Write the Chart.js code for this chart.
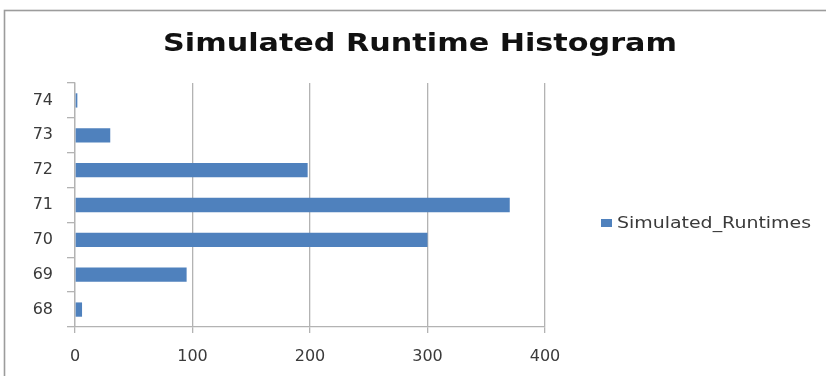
<!DOCTYPE html>
<html>
<head>
<meta charset="utf-8">
<script src="https://cdn.jsdelivr.net/npm/chart.js@4/dist/chart.umd.min.js"></script>
<style>
  html, body { margin: 0; padding: 0; background: #ffffff; }
  #wrap { position: relative; width: 826px; height: 376px; }
</style>
</head>
<body>
<div id="wrap"><canvas id="chart" width="826" height="376"></canvas></div>
<script>
// Runtime bins (seconds) and how many simulated runs landed in each
const runtimeBins = ['68', '69', '70', '71', '72', '73', '74'];
const runCounts = [6, 95, 300, 370, 198, 30, 2];
const countTicks = [0, 100, 200, 300, 400];
const seriesName = 'Simulated_Runtimes';
const chartTitle = 'Simulated Runtime Histogram';

const BAR_BLUE = '#4f81bd';
const TEXT_GREY = '#3a3a3a';
const RULE_GREY = '#b3b3b3';

// Draw text horizontally widened so it spans a given width
function drawWideText(ctx, text, font, x, y, width, align) {
  ctx.save();
  ctx.font = font;
  const natural = ctx.measureText(text).width;
  const sx = width / natural;
  const left = align === 'center' ? x - width / 2 : x;
  ctx.translate(left, y);
  ctx.scale(sx, 1);
  ctx.textAlign = 'left';
  ctx.textBaseline = 'alphabetic';
  ctx.fillText(text, 0, 0);
  ctx.restore();
}

// Outer frame around the whole chart
const framePlugin = {
  id: 'frame',
  beforeDraw(chart) {
    const ctx = chart.ctx;
    ctx.save();
    ctx.strokeStyle = '#9c9c9c';
    ctx.lineWidth = 1.6;
    ctx.strokeRect(4.5, 10.5, chart.width + 20, chart.height + 20);
    ctx.restore();
  }
};

// Heading centred across the whole frame
const headingPlugin = {
  id: 'heading',
  afterDraw(chart) {
    const ctx = chart.ctx;
    ctx.fillStyle = '#111111';
    drawWideText(ctx, chartTitle, 'bold 25px "DejaVu Sans"', 420, 51, 514, 'center');
  }
};

// Legend entry drawn to the right of the plot
const sideLegendPlugin = {
  id: 'sideLegend',
  afterDraw(chart) {
    const ctx = chart.ctx;
    const ds = chart.data.datasets[0];
    ctx.save();
    ctx.fillStyle = ds.backgroundColor;
    ctx.fillRect(601, 219, 11, 8);
    ctx.fillStyle = TEXT_GREY;
    drawWideText(ctx, ds.label, '15px "DejaVu Sans"', 617, 228, 194, 'left');
    ctx.restore();
  }
};

new Chart(document.getElementById('chart'), {
  type: 'bar',
  data: {
    labels: runtimeBins,
    datasets: [{
      label: seriesName,
      data: runCounts,
      backgroundColor: BAR_BLUE,
      borderWidth: 0,
      categoryPercentage: 1.0,
      barPercentage: 0.41
    }]
  },
  options: {
    indexAxis: 'y',
    responsive: false,
    animation: false,
    devicePixelRatio: 1,
    layout: { padding: { left: 30, right: 281, top: 83, bottom: 0 } },
    plugins: {
      legend: { display: false },
      tooltip: { enabled: false },
      title: { display: false }
    },
    scales: {
      x: {
        type: 'linear',
        min: 0,
        max: 400,
        afterBuildTicks(scale) {
          scale.ticks = countTicks.map(v => ({ value: v }));
        },
        afterFit(scale) { scale.height = 49; },
        grid: {
          color: RULE_GREY,
          lineWidth: 1.3,
          drawTicks: true,
          tickLength: 6,
          tickColor: RULE_GREY
        },
        border: { display: true, color: RULE_GREY, width: 1.3 },
        ticks: {
          color: TEXT_GREY,
          padding: 14,
          maxRotation: 0,
          font: { family: '"DejaVu Sans"', size: 16 }
        }
      },
      y: {
        type: 'category',
        reverse: true,
        offset: true,
        afterFit(scale) { scale.width = 45; },
        grid: {
          offset: true,
          drawOnChartArea: false,
          drawTicks: true,
          tickLength: 8,
          color: RULE_GREY,
          lineWidth: 1.3
        },
        border: { display: true, color: RULE_GREY, width: 1.3 },
        ticks: {
          color: TEXT_GREY,
          padding: 14,
          font: { family: '"DejaVu Sans"', size: 16 }
        }
      }
    }
  },
  plugins: [framePlugin, headingPlugin, sideLegendPlugin]
});
</script>
</body>
</html>
